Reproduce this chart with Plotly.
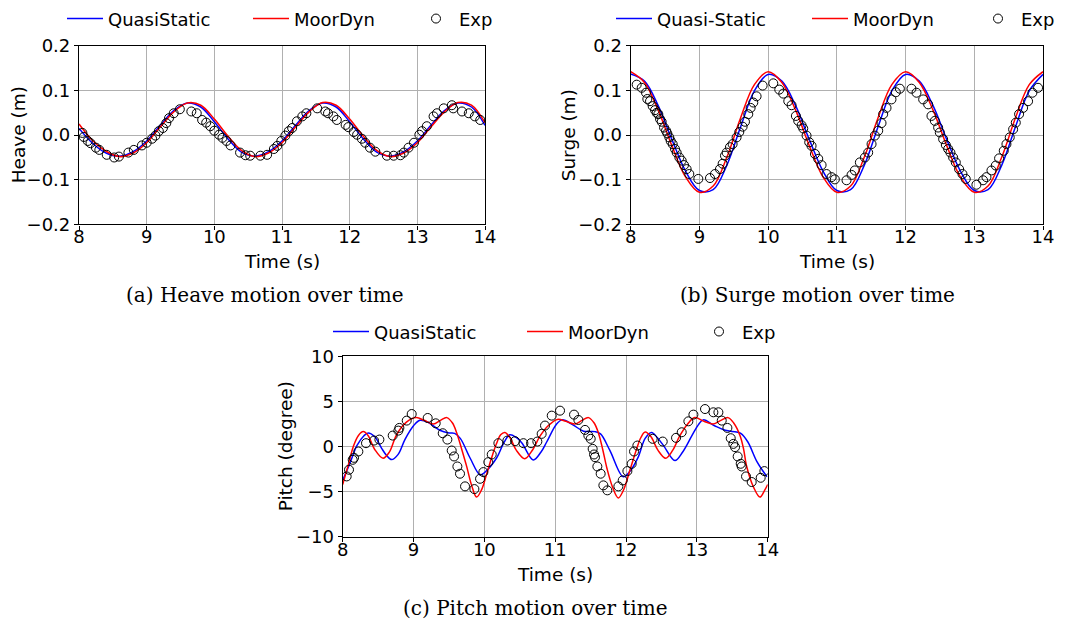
import plotly.graph_objects as go

# ---------------- data ----------------
t_coarse = [8.0 + 0.2 * i for i in range(31)]

heave_qs = [0.015, -0.018, -0.040, -0.047, -0.037, -0.013, 0.022, 0.055, 0.072, 0.063,
            0.030, -0.008, -0.038, -0.047, -0.037, -0.013, 0.022, 0.055, 0.072, 0.063,
            0.030, -0.008, -0.038, -0.047, -0.037, -0.013, 0.022, 0.055, 0.072, 0.063, 0.022]
heave_md = [0.025, -0.012, -0.036, -0.048, -0.040, -0.017, 0.018, 0.052, 0.072, 0.067,
            0.036, -0.002, -0.034, -0.048, -0.040, -0.017, 0.018, 0.052, 0.073, 0.067,
            0.036, -0.002, -0.034, -0.048, -0.040, -0.017, 0.018, 0.052, 0.073, 0.067, 0.028]
heave_exp_t = [8.05, 8.07, 8.13, 8.17, 8.25, 8.30, 8.41, 8.52, 8.59, 8.73, 8.81, 8.93, 9.00, 9.08,
               9.13, 9.18, 9.24, 9.29, 9.33, 9.40, 9.49, 9.66, 9.74, 9.82, 9.88, 9.94, 10.00,
               10.07, 10.12, 10.18, 10.24, 10.38, 10.46, 10.53, 10.68, 10.78, 10.88, 10.93,
               10.99, 11.05, 11.10, 11.15, 11.22, 11.30, 11.36, 11.52, 11.64, 11.68, 11.76,
               11.81, 11.94, 11.98, 12.06, 12.11, 12.18, 12.23, 12.30, 12.38, 12.55, 12.65,
               12.75, 12.80, 12.87, 12.95, 13.03, 13.07, 13.14, 13.24, 13.29, 13.39, 13.51,
               13.53, 13.66, 13.76, 13.85, 13.93]
heave_exp = [0.005, -0.004, -0.013, -0.018, -0.028, -0.033, -0.044, -0.050, -0.048, -0.039,
             -0.033, -0.023, -0.017, -0.008, -0.001, 0.009, 0.016, 0.027, 0.038, 0.049, 0.058,
             0.053, 0.049, 0.034, 0.028, 0.020, 0.010, 0.001, -0.006, -0.013, -0.023, -0.039,
             -0.045, -0.046, -0.046, -0.044, -0.031, -0.024, -0.013, -0.001, 0.009, 0.016,
             0.031, 0.042, 0.049, 0.060, 0.053, 0.049, 0.042, 0.034, 0.023, 0.018, 0.007,
             0.001, -0.008, -0.017, -0.028, -0.037, -0.046, -0.046, -0.045, -0.039, -0.028,
             -0.017, 0.001, 0.009, 0.020, 0.042, 0.049, 0.060, 0.067, 0.060, 0.053, 0.049,
             0.042, 0.034]

surge_qs = [0.137, 0.121, 0.066, -0.010, -0.081, -0.124, -0.122, -0.067, 0.019, 0.099,
            0.136, 0.121, 0.066, -0.010, -0.081, -0.124, -0.122, -0.067, 0.019, 0.099,
            0.136, 0.121, 0.066, -0.010, -0.081, -0.124, -0.122, -0.067, 0.019, 0.099, 0.136]
surge_md = [0.142, 0.118, 0.056, -0.024, -0.094, -0.128, -0.114, -0.049, 0.039, 0.113,
            0.142, 0.118, 0.056, -0.024, -0.094, -0.128, -0.114, -0.049, 0.039, 0.113,
            0.142, 0.118, 0.056, -0.024, -0.094, -0.128, -0.114, -0.049, 0.039, 0.113, 0.142]
surge_exp_t = [8.087, 8.160, 8.223, 8.242, 8.281, 8.320, 8.354, 8.378, 8.402, 8.427, 8.451,
               8.485, 8.514, 8.533, 8.562, 8.582, 8.611, 8.645, 8.669, 8.708, 8.742, 8.776,
               8.814, 8.853, 8.984, 9.154, 9.226, 9.299, 9.338, 9.372, 9.396, 9.444, 9.483,
               9.541, 9.580, 9.629, 9.663, 9.711, 9.745, 9.784, 9.832, 9.920, 10.075, 10.162,
               10.220, 10.293, 10.341, 10.404, 10.438, 10.487, 10.511, 10.559, 10.598, 10.632,
               10.681, 10.729, 10.778, 10.850, 10.923, 10.971, 11.141, 11.214, 11.262, 11.335,
               11.408, 11.456, 11.505, 11.553, 11.602, 11.650, 11.674, 11.723, 11.795, 11.858,
               11.917, 12.086, 12.159, 12.256, 12.329, 12.377, 12.426, 12.474, 12.498, 12.547,
               12.586, 12.620, 12.653, 12.692, 12.731, 12.779, 12.828, 12.876, 13.031, 13.128,
               13.177, 13.250, 13.313, 13.361, 13.429, 13.468, 13.516, 13.565, 13.604, 13.652,
               13.710, 13.783, 13.846, 13.928]
surge_exp = [0.113, 0.106, 0.095, 0.081, 0.076, 0.065, 0.056, 0.050, 0.047, 0.036, 0.030,
             0.017, 0.010, 0.004, -0.005, -0.013, -0.020, -0.031, -0.039, -0.050, -0.057,
             -0.067, -0.076, -0.087, -0.098, -0.096, -0.087, -0.076, -0.064, -0.046, -0.039,
             -0.027, -0.020, -0.005, 0.007, 0.019, 0.030, 0.047, 0.061, 0.073, 0.087, 0.111,
             0.116, 0.102, 0.093, 0.076, 0.067, 0.043, 0.032, 0.022, 0.015, -0.001, -0.016,
             -0.024, -0.042, -0.053, -0.067, -0.087, -0.094, -0.099, -0.101, -0.089, -0.079,
             -0.061, -0.050, -0.039, -0.020, -0.001, 0.010, 0.027, 0.047, 0.061, 0.080, 0.096,
             0.104, 0.104, 0.095, 0.080, 0.069, 0.043, 0.032, 0.017, 0.006, -0.009, -0.022,
             -0.031, -0.039, -0.050, -0.061, -0.076, -0.087, -0.098, -0.111, -0.101, -0.094,
             -0.079, -0.068, -0.052, -0.035, -0.020, -0.005, 0.013, 0.028, 0.047, 0.061,
             0.076, 0.095, 0.106]

pitch_qs_t = [8.0, 8.1, 8.2, 8.3, 8.36, 8.45, 8.55, 8.62, 8.69, 8.78, 8.88, 9.0, 9.09, 9.2,
              9.37, 9.5, 9.58, 9.66, 9.8, 9.94, 10.0, 10.17, 10.28, 10.36, 10.45, 10.53, 10.69,
              10.8, 10.88, 11.02, 11.1, 11.25, 11.4, 11.56, 11.64, 11.77, 11.96, 12.05, 12.17,
              12.27, 12.36, 12.44, 12.53, 12.69, 12.8, 12.93, 13.02, 13.09, 13.25, 13.4, 13.56,
              13.62, 13.72, 13.85, 13.99]
pitch_qs = [-3.7, -1.9, 0.1, 1.2, 1.5, 1.1, -0.2, -1.0, -1.45, -0.9, 0.8, 2.3, 2.9, 2.7,
            1.8, 1.5, 1.45, 0.9, -1.3, -3.15, -2.9, -1.3, 0.5, 1.3, 1.0, 0.4, -1.48,
            -0.6, 0.5, 2.5, 2.95, 2.4, 1.7, 1.65, 1.4, -0.4, -3.35, -2.8, -1.2,
            0.9, 1.55, 1.0, 0.1, -1.55, -0.6, 1.2, 2.4, 2.95, 2.3, 1.8, 1.6,
            1.45, 0.5, -1.7, -3.35]
pitch_md_t = [8.0, 8.08, 8.15, 8.22, 8.29, 8.36, 8.45, 8.57, 8.66, 8.76, 8.9, 9.04, 9.15,
              9.28, 9.38, 9.47, 9.55, 9.61, 9.68, 9.75, 9.82, 9.89, 9.96, 10.03, 10.1, 10.17,
              10.23, 10.29, 10.36, 10.45, 10.57, 10.67, 10.79, 10.9, 11.03, 11.15, 11.28,
              11.38, 11.47, 11.55, 11.61, 11.67, 11.73, 11.81, 11.89, 11.96, 12.06, 12.14,
              12.21, 12.27, 12.35, 12.45, 12.56, 12.66, 12.76, 12.87, 12.97, 13.1, 13.23,
              13.34, 13.44, 13.52, 13.61, 13.66, 13.70, 13.8, 13.89, 13.96, 14.0]
pitch_md = [-4.2, -2.0, 0.0, 1.2, 1.65, 1.2, -0.3, -1.3, -0.6, 1.3, 2.7, 3.2, 2.9,
            2.5, 2.9, 3.2, 2.6, 1.5, -0.3, -2.2, -4.3, -5.6, -4.8, -3.1, -1.3, 0.3,
            1.3, 1.55, 1.0, -0.4, -1.35, -0.5, 1.2, 2.3, 3.0, 2.8, 2.5,
            2.9, 3.2, 2.6, 1.5, -0.3, -2.4, -4.5, -5.7, -4.9, -2.5, -0.5,
            1.0, 1.6, 1.1, -0.4, -1.3, -0.4, 1.2, 2.5, 3.2, 2.8, 2.5,
            2.9, 3.2, 2.6, 1.2, -0.3, -2.1, -4.5, -5.6, -4.8, -4.2]
pitch_exp_t = [8.056, 8.089, 8.141, 8.160, 8.221, 8.329, 8.442, 8.518, 8.706, 8.786, 8.800,
               8.904, 8.974, 9.200, 9.313, 9.412, 9.478, 9.539, 9.572, 9.619, 9.656, 9.727,
               9.859, 9.939, 9.986, 10.056, 10.104, 10.198, 10.325, 10.433, 10.551, 10.659,
               10.748, 10.809, 10.856, 10.951, 11.068, 11.266, 11.327, 11.421, 11.468, 11.501,
               11.529, 11.548, 11.562, 11.595, 11.642, 11.680, 11.736, 11.892, 11.953, 12.019,
               12.080, 12.113, 12.160, 12.376, 12.518, 12.706, 12.786, 12.880, 12.951, 13.115,
               13.233, 13.304, 13.351, 13.431, 13.478, 13.515, 13.539, 13.576, 13.619, 13.633,
               13.694, 13.774, 13.901, 13.953]
pitch_exp = [-3.31, -2.57, -1.47, -1.25, -0.55, 0.37, 0.66, 0.77, 1.21, 1.76, 2.06,
             2.87, 3.60, 3.16, 2.57, 1.47, 0.77, -0.44, -1.10, -2.21, -3.01, -4.41,
             -4.71, -3.57, -2.83, -1.73, -0.88, 0.37, 0.66, 0.59, 0.37, 0.37,
             0.55, 1.40, 2.32, 3.42, 3.97, 3.53, 2.94, 1.84, 1.21, 0.85,
             -0.26, -0.88, -1.18, -2.21, -3.01, -4.30, -4.85, -4.41, -3.75, -2.72,
             -1.91, -0.55, 0.11, 0.85, 0.55, 0.96, 1.58, 2.79, 3.53, 4.15,
             3.79, 3.79, 2.87, 2.06, 0.92, 0.29, -0.07, -1.10, -1.91, -2.21,
             -3.31, -3.93, -3.46, -2.72]

x_ticks = [8, 9, 10, 11, 12, 13, 14]
x_title = "Time (s)"
y_titles = ["Heave (m)", "Surge (m)", "Pitch (degree)"]
captions = ["(a) Heave motion over time", "(b) Surge motion over time", "(c) Pitch motion over time"]

# ---------------- figure ----------------
W, H = 1069, 626
BLUE, RED = "#0000ff", "#ff0000"
SANS = "DejaVu Sans"
SERIF = "DejaVu Serif"

fig = go.Figure()

def px_x(p):
    return p / W

def px_y(p):
    return 1 - p / H

panels = [
    dict(ax="", t1=t_coarse, y1=heave_qs, t2=t_coarse, y2=heave_md, te=heave_exp_t, ye=heave_exp,
         n1="QuasiStatic", legs=("legend", "legend2", "legend3")),
    dict(ax="2", t1=t_coarse, y1=surge_qs, t2=t_coarse, y2=surge_md, te=surge_exp_t, ye=surge_exp,
         n1="Quasi-Static", legs=("legend4", "legend5", "legend6")),
    dict(ax="3", t1=pitch_qs_t, y1=pitch_qs, t2=pitch_md_t, y2=pitch_md, te=pitch_exp_t, ye=pitch_exp,
         n1="QuasiStatic", legs=("legend7", "legend8", "legend9")),
]

for p in panels:
    xa, ya = "x" + p["ax"], "y" + p["ax"]
    fig.add_trace(go.Scatter(x=p["t1"], y=p["y1"], mode="lines", name=p["n1"],
                             line=dict(color=BLUE, width=1.5, shape="spline", smoothing=1.0),
                             xaxis=xa, yaxis=ya, legend=p["legs"][0]))
    fig.add_trace(go.Scatter(x=p["t2"], y=p["y2"], mode="lines", name="MoorDyn",
                             line=dict(color=RED, width=1.5, shape="spline", smoothing=1.0),
                             xaxis=xa, yaxis=ya, legend=p["legs"][1]))
    fig.add_trace(go.Scatter(x=p["te"], y=p["ye"], mode="markers", name="Exp",
                             marker=dict(symbol="circle-open", size=9, color="black",
                                         line=dict(width=1, color="black")),
                             xaxis=xa, yaxis=ya, legend=p["legs"][2]))

axis_common = dict(showline=True, linecolor="black", linewidth=1.2, mirror=True,
                   ticks="outside", ticklen=4, tickcolor="black", tickwidth=1,
                   showgrid=True, gridcolor="#b0b0b0", gridwidth=1, zeroline=False,
                   automargin=False,
                   tickfont=dict(family=SANS, size=18, color="black"))

domains = [
    ((79, 485), (38.3, 219.3)),
    ((630.7, 1043), (38.3, 219.3)),
    ((342.7, 767.7), (352.7, 535.7)),
]
yranges = [[-0.2, 0.2], [-0.2, 0.2], [-10, 10]]
ydticks = [0.1, 0.1, 5]
yfmt = [".1f", ".1f", "d"]

for i, ((x0, x1), (yt, yb)) in enumerate(domains):
    suf = "" if i == 0 else str(i + 1)
    fig.layout["xaxis" + suf] = dict(
        axis_common, domain=[px_x(x0), px_x(x1)], range=[8, 14], tickvals=x_ticks,
        anchor="y" + suf, ticklabelstandoff=-8)
    fig.layout["yaxis" + suf] = dict(
        axis_common, domain=[px_y(yb), px_y(yt)], range=yranges[i], dtick=ydticks[i],
        tickformat=yfmt[i], anchor="x" + suf)

# axis titles placed as in the reference
xt_pos = [(282, 257), (837, 257), (555, 574)]
yt_pos = [(18, 129), (568, 129), (285, 444)]
for (xx, xy), (yx, yy), yt in zip(xt_pos, yt_pos, y_titles):
    fig.add_annotation(text=x_title, x=px_x(xx), y=px_y(xy), xref="paper", yref="paper",
                       xanchor="center", yanchor="middle", showarrow=False,
                       font=dict(family=SANS, size=18.5, color="black"))
    fig.add_annotation(text=yt, x=px_x(yx), y=px_y(yy), xref="paper", yref="paper",
                       xanchor="center", yanchor="middle", showarrow=False, textangle=-90,
                       font=dict(family=SANS, size=18.5, color="black"))

# legends: one per item, positioned like the reference
leg_pos = [  # (text start px, centre y px)
    (115, 11), (301, 11), (466, 11),
    (664, 11), (860, 11), (1028, 11),
    (381, 328), (575, 328), (749, 328),
]
names = ["legend"] + ["legend%d" % k for k in range(2, 10)]
for nm, (tx, ty) in zip(names, leg_pos):
    fig.layout[nm] = dict(x=px_x(tx - 53), y=px_y(ty), xanchor="left", yanchor="middle",
                          orientation="h", itemwidth=36, bgcolor="rgba(0,0,0,0)",
                          borderwidth=0, font=dict(family=SANS, size=18, color="black"))

cap_pos = [(265, 291), (817, 291), (535, 608)]
for txt, (cx, cy) in zip(captions, cap_pos):
    fig.add_annotation(text=txt, x=px_x(cx), y=px_y(cy), xref="paper", yref="paper",
                       xanchor="center", yanchor="middle", showarrow=False,
                       font=dict(family=SERIF, size=20, color="black"))

fig.update_layout(width=W, height=H, margin=dict(l=0, r=0, t=0, b=0),
                  paper_bgcolor="white", plot_bgcolor="white", showlegend=True)

fig.write_html("out.html")
